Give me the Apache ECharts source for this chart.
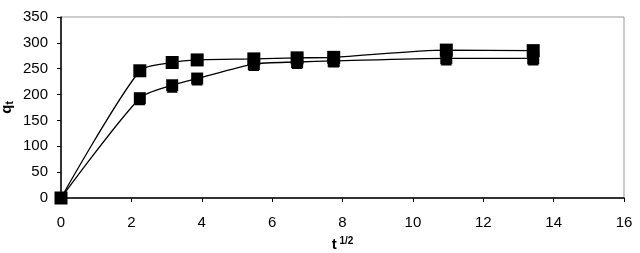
<!DOCTYPE html>
<html>
<head>
<meta charset="utf-8">
<script src="https://cdn.jsdelivr.net/npm/echarts@6/dist/echarts.min.js"></script>
<style>
    html, body { margin: 0; padding: 0; background: #fff; }
    #chart { width: 640px; height: 253px; }
</style>
</head>
<body>
<div id="chart"></div>
<script>
    // t^(1/2) values, shared by all series
    var sqrtT = [0, 2.24, 3.16, 3.87, 5.48, 6.71, 7.75, 10.95, 13.42];
    var upper = [0, 246, 262, 267, 269, 271, 272, 286, 285];
    var lower = [0, 193, 218, 231, 259, 263, 265, 270, 270];
    var lowerTri = [0, 190, 214, 228, 256, 260, 263, 267, 267];

    function pairs(ys) {
        var out = [];
        for (var i = 0; i < sqrtT.length; i++) {
            out.push([sqrtT[i], ys[i]]);
        }
        return out;
    }

    var font = 'Liberation Sans, Arial, sans-serif';
    var chart = echarts.init(document.getElementById('chart'));

    var option = {
        animation: false,
        grid: {
            left: 61, right: 16, top: 17, bottom: 55,
            outerBoundsMode: 'none',
            containLabel: false,
            show: true, borderColor: '#999', borderWidth: 1
        },
        xAxis: {
            type: 'value',
            min: 0, max: 16, interval: 2,
            name: '{b|t}{s| 1/2}',
            nameLocation: 'middle',
            nameGap: 38,
            nameMoveOverlap: false,
            nameTextStyle: {
                rich: {
                    b: { fontFamily: font, fontSize: 15, fontWeight: 'bold', color: '#000' },
                    s: { fontFamily: font, fontSize: 10, fontWeight: 'bold', color: '#000', verticalAlign: 'top', padding: [0, 0, 7, 0] }
                }
            },
            axisLine: { lineStyle: { color: '#000', width: 1.5 } },
            axisTick: { show: true, inside: false, length: 4, lineStyle: { color: '#000' } },
            axisLabel: { fontFamily: font, fontSize: 15, color: '#000', margin: 17 },
            splitLine: { show: false }
        },
        yAxis: {
            type: 'value',
            min: 0, max: 350, interval: 50,
            name: '{b|q}{s|t}',
            nameLocation: 'middle',
            nameGap: 46,
            nameMoveOverlap: false,
            nameRotate: 90,
            nameTextStyle: {
                rich: {
                    b: { fontFamily: font, fontSize: 15, fontWeight: 'bold', color: '#000' },
                    s: { fontFamily: font, fontSize: 10, fontWeight: 'bold', color: '#000', verticalAlign: 'bottom', padding: [6, 0, 0, 0] }
                }
            },
            axisLine: { show: true, lineStyle: { color: '#000', width: 1.5 } },
            axisTick: { show: true, inside: false, length: 4, lineStyle: { color: '#000' } },
            axisLabel: { fontFamily: font, fontSize: 15, color: '#000', margin: 13 },
            splitLine: { show: false }
        },
        series: [
            {
                type: 'line', data: pairs(lowerTri),
                symbol: 'triangle', symbolSize: 11,
                lineStyle: { width: 0, opacity: 0 },
                itemStyle: { color: '#000' }
            },
            {
                type: 'line', data: pairs(lower), smooth: 0.25,
                symbol: 'rect', symbolSize: 12,
                lineStyle: { color: '#000', width: 1.3 },
                itemStyle: { color: '#000' }
            },
            {
                type: 'line', data: pairs(upper), smooth: 0.25,
                symbol: 'rect', symbolSize: 13,
                lineStyle: { color: '#000', width: 1.3 },
                itemStyle: { color: '#000' }
            }
        ]
    };
    chart.setOption(option);
</script>
</body>
</html>
